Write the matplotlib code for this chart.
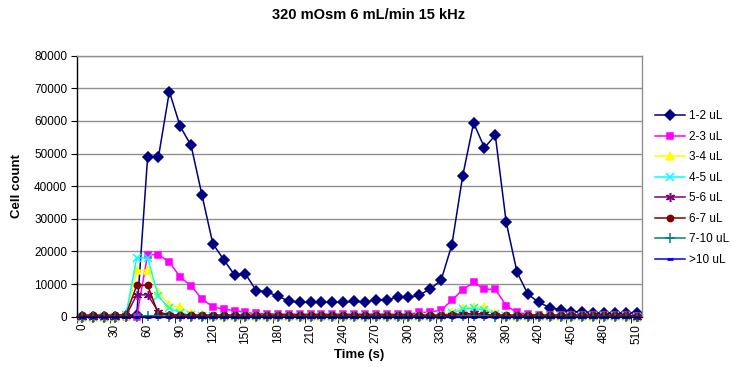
import matplotlib
matplotlib.use("Agg")
import matplotlib.pyplot as plt
import numpy as np

plt.rcParams['font.family'] = ['Liberation Sans', 'DejaVu Sans']

times = list(range(0, 520, 10))

s_1_2 = [0, 0, 0, 0, 200, 500, 49000, 49000, 69000, 58300, 52500, 37300, 22400, 17500, 12800, 13100,
         8000, 7600, 6200, 4800, 4400, 4400, 4400, 4400, 4400, 4700, 4400, 5200, 5200, 5900, 5900, 6600,
         8500, 11100, 22000, 43200, 59400, 51800, 55600, 29000, 13600, 6900, 4400, 2800, 2100, 1500,
         1500, 1200, 1200, 1200, 1200, 1200]
s_2_3 = [0, 0, 0, 0, 0, 0, 19000, 19000, 16700, 12200, 9400, 5500, 3000, 2300, 1900, 1300,
         1000, 900, 800, 800, 800, 800, 800, 800, 800, 800, 800, 800, 800, 800, 800, 1300,
         1400, 2000, 5000, 8300, 10500, 8400, 8400, 3400, 1300, 800, 400, 400, 400, 400,
         400, 400, 400, 400, 400, 200]
s_3_4 = [0, 0, 0, 0, 300, 14200, 14200, 7500, 3600, 2900, 1200, 500, 300, 200, 200, 200,
         200, 200, 200, 200, 200, 200, 200, 200, 200, 200, 200, 200, 200, 200, 200, 200,
         300, 500, 1500, 2800, 2900, 2900, 1200, 300, 200, 200, 200, 200, 200, 200,
         200, 200, 200, 200, 200, 0]
s_4_5 = [0, 0, 0, 0, 500, 18000, 18000, 6200, 2600, 1200, 500, 200, 200, 200, 200, 200,
         200, 200, 200, 200, 200, 200, 200, 200, 200, 200, 200, 200, 200, 200, 200, 200,
         200, 400, 1000, 2300, 2600, 2000, 800, 200, 200, 200, 200, 200, 200, 200,
         200, 200, 200, 200, 200, 0]
s_5_6 = [0, 0, 0, 0, 200, 6700, 6700, 1500, 500, 200, 100, 100, 100, 100, 100, 100,
         100, 100, 100, 100, 100, 100, 100, 100, 100, 100, 100, 100, 100, 100, 100, 100,
         100, 200, 600, 900, 1000, 800, 400, 100, 100, 100, 100, 100, 100, 100,
         100, 100, 100, 100, 100, 0]
s_6_7 = [500, 500, 500, 500, 600, 9600, 9600, 700, 600, 500, 500, 500, 500, 500, 500, 500,
         500, 500, 500, 500, 500, 500, 500, 500, 500, 500, 500, 500, 500, 500, 500, 500,
         500, 500, 500, 500, 500, 500, 500, 500, 500, 500, 500, 500, 500, 500,
         500, 500, 500, 500, 500, 300]
s_7_10 = [0, 0, 0, 0, 0, 0, 300, 300, 0, 0, 0, 0, 0, 0, 0, 0,
          0, 0, 0, 0, 0, 0, 0, 0, 0, 0, 0, 0, 0, 0, 0, 0,
          0, 0, 0, 200, 200, 200, 0, 0, 0, 0, 0, 0, 0, 0,
          0, 0, 0, 0, 0, 0]
s_gt10 = [0] * 52

series = [
    ("1-2 uL", s_1_2, "#000080", "D", 5.2),
    ("2-3 uL", s_2_3, "#FF00FF", "s", 5),
    ("3-4 uL", s_3_4, "#FFFF00", "^", 5.5),
    ("4-5 uL", s_4_5, "#00FFFF", "x", 5.5),
    ("5-6 uL", s_5_6, "#800080", (6, 2, 0), 6.5),
    ("6-7 uL", s_6_7, "#800000", "o", 4.5),
    ("7-10 uL", s_7_10, "#008080", "+", 6.5),
    (">10 uL", s_gt10, "#0000FF", "_", 5),
]

fig = plt.figure(figsize=(7.31, 3.67), dpi=100)
ax = fig.add_axes([77 / 731, 1 - 316.7 / 367, (642 - 77) / 731, (316.7 - 55.7) / 367])

x = np.arange(len(times))
handles = []
for name, vals, col, mk, ms in series:
    mew = 1.1
    if mk == "_":
        mew = 2.0
    h, = ax.plot(x, vals, color=col, marker=mk, markersize=ms, linewidth=1.1,
                 markeredgewidth=mew, markerfacecolor=col, markeredgecolor=col,
                 label=name, clip_on=False)
    handles.append(h)

ax.set_xlim(-0.5, len(times) - 0.5)
ax.set_ylim(0, 80000)
ax.set_yticks(np.arange(0, 80001, 10000))
ax.set_yticklabels([str(v) for v in range(0, 80001, 10000)], fontsize=8.5)
ax.yaxis.grid(True, color="#909090", linewidth=1.0)
ax.set_axisbelow(True)

ax.set_xticks(x[::3])
ax.set_xticklabels([str(t) for t in times[::3]], rotation=90, fontsize=8.5, va="top", ha="center")
ax.set_xticks(np.arange(-0.5, len(times), 3), minor=True)
ax.tick_params(axis="x", which="major", length=0, pad=5)
ax.tick_params(axis="x", which="minor", length=4, direction="out", color="black")
ax.tick_params(axis="y", length=4, direction="out", color="black", pad=3)

for sp in ["left", "bottom"]:
    ax.spines[sp].set_color("black")
    ax.spines[sp].set_linewidth(1.0)
for sp in ["right", "top"]:
    ax.spines[sp].set_color("#909090")
    ax.spines[sp].set_linewidth(1.0)

ax.set_xlabel("Time (s)", fontsize=9.5, fontweight="bold", labelpad=4)
ax.set_ylabel("Cell count", fontsize=9.5, fontweight="bold", labelpad=8)
fig.suptitle("320 mOsm 6 mL/min 15 kHz", fontsize=10.5, fontweight="bold", x=369 / 731, y=1 - 8 / 367)

fig.legend(handles=handles, loc="center left", bbox_to_anchor=(650 / 731, 1 - 188 / 367),
           frameon=False, fontsize=8.5, handlelength=2.6, labelspacing=0.72,
           handletextpad=0.3, borderaxespad=0)

fig.savefig("out.png", dpi=100)
